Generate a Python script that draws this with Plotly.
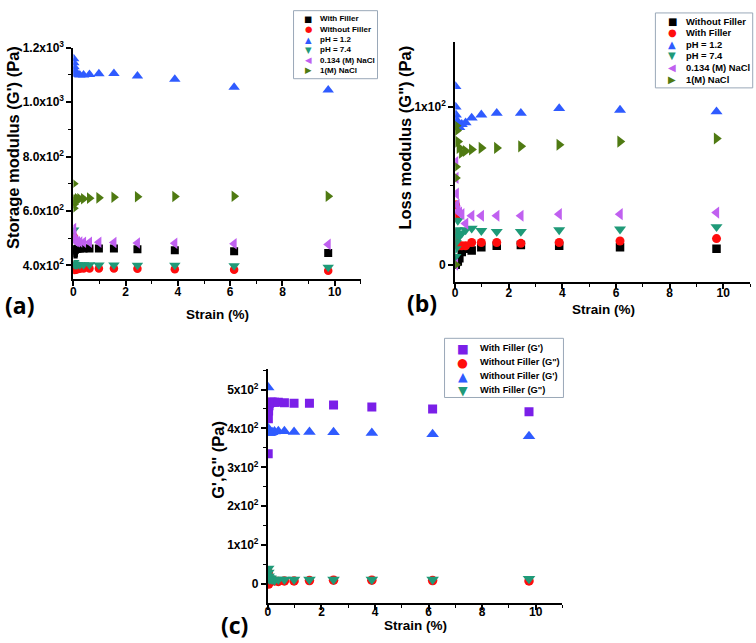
import plotly.graph_objects as go

W, H = 756, 643

# ---------------- data ----------------
strain = [0.0098, 0.0155, 0.0245, 0.0388, 0.0615, 0.0975, 0.155, 0.245,
          0.388, 0.615, 0.975, 1.55, 2.45, 3.88, 6.15, 9.75]

# (a) storage modulus G' (Pa)
a_names = ["With Filler", "Without Filler", "pH = 1.2", "pH = 7.4", "0.134 (M) NaCl", "1(M) NaCl"]
a_with_filler = [440, 445, 452, 456, 458, 460, 461, 462, 462, 462, 462, 462, 459, 455, 452, 445]
a_without_filler = [505, 400, 385, 383, 384, 385, 386, 387, 388, 388, 388, 388, 387, 386, 384, 380]
a_ph12 = [1160, 1145, 1130, 1118, 1110, 1105, 1102, 1100, 1100, 1102, 1104, 1105, 1096, 1084, 1055, 1045]
a_ph74 = [530, 410, 405, 403, 402, 402, 402, 402, 402, 402, 401, 401, 400, 400, 398, 393]
a_nacl0134 = [535, 515, 500, 492, 490, 488, 487, 486, 485, 485, 485, 484, 482, 481, 479, 477]
a_nacl1 = [700, 610, 625, 635, 640, 642, 645, 645, 645, 647, 648, 650, 652, 653, 654, 654]

# (b) loss modulus G'' (Pa)
b_names = ["Without Filler", "With Filler", "pH = 1.2", "pH = 7.4", "0.134 (M) NaCl", "1(M) NaCl"]
b_without_filler = [0, 0, 1, 2, 3, 2, 4, 8, 10, 9, 11, 12, 12.5, 12, 11, 10]
b_with_filler = [38, 30, 20, 15, 13, 12, 12, 12, 12, 14, 14, 14, 13.5, 14, 15, 16.5]
b_ph12 = [113, 100, 95, 92, 90, 88, 87, 89, 90, 93, 95, 96, 96, 99, 98, 97]
b_ph74 = [5, 10, 14, 18, 22, 28, 18, 20, 22, 23, 21.5, 21, 21, 22, 22.5, 24]
b_nacl0134 = [0, 65, 55, 45, 38, 34, 33, 32, 26, 31, 31, 31, 31, 32, 32, 33]
b_nacl1 = [0, 55, 62, 88, 85, 78, 74, 71, 72, 73, 74, 74, 75, 76, 78, 80]

# (c) G', G'' (Pa)
c_names = ["With Filler (G')", "Without Filler (G\")", "Without Filler (G')", "With Filler (G\")"]
c_with_g1 = [335, 425, 445, 458, 465, 467, 468, 467, 467, 466, 465, 465, 460, 455, 450, 443]
c_without_g2 = [30, 20, 0, 5, 10, 12, 10, 8, 7, 8, 8, 9, 10, 10, 9, 8]
c_without_g1 = [505, 400, 390, 388, 388, 389, 390, 392, 393, 393, 391, 391, 390, 388, 385, 380]
c_with_g2 = [40, 30, 20, 15, 12, 15, 12, 10, 12, 12, 12, 12, 12, 12, 12, 14]

x_ticks = [0, 2, 4, 6, 8, 10]
a_yticks = [400, 600, 800, 1000, 1200]
a_yticktext = ["4.0x10<sup>2</sup>", "6.0x10<sup>2</sup>", "8.0x10<sup>2</sup>",
               "1.0x10<sup>3</sup>", "1.2x10<sup>3</sup>"]
b_yticks = [0, 100]
b_yticktext = ["0", "1x10<sup>2</sup>"]
c_yticks = [0, 100, 200, 300, 400, 500]
c_yticktext = ["0", "1x10<sup>2</sup>", "2x10<sup>2</sup>", "3x10<sup>2</sup>",
               "4x10<sup>2</sup>", "5x10<sup>2</sup>"]

# ---------------- styles ----------------
BLACK = "#000000"
RED = "#ff0d0d"
BLUE = "#2f5bff"
TEAL = "#1f9a78"
VIOLET = "#c060f0"
OLIVE = "#4f7a12"
PURPLE = "#7a1fe8"

FONT = "Liberation Sans"


def px(x):
    return x / W


def py(y):
    return 1 - y / H


fig = go.Figure()


def add_series(xa, ya, y, symbol, color, size):
    fig.add_trace(go.Scatter(x=strain, y=y, mode="markers", xaxis=xa, yaxis=ya,
                             showlegend=False,
                             marker=dict(symbol=symbol, color=color, size=size,
                                         line=dict(width=0))))


a_series = [a_with_filler, a_without_filler, a_ph12, a_ph74, a_nacl0134, a_nacl1]
b_series = [b_without_filler, b_with_filler, b_ph12, b_ph74, b_nacl0134, b_nacl1]
c_series = [c_with_g1, c_without_g2, c_without_g1, c_with_g2]
six_sym = ["square", "circle", "triangle-up", "triangle-down", "triangle-left", "triangle-right"]
six_col = [BLACK, RED, BLUE, TEAL, VIOLET, OLIVE]
six_size = [8, 8.5, 10, 10, 10, 10]
for s, sym, col, sz in zip(a_series, six_sym, six_col, six_size):
    add_series("x", "y", s, sym, col, sz)
for s, sym, col, sz in zip(b_series, six_sym, six_col, six_size):
    add_series("x2", "y2", s, sym, col, sz + 0.5)
c_sym = ["square", "circle", "triangle-up", "triangle-down"]
c_col = [PURPLE, RED, BLUE, TEAL]
c_size = [9, 9.5, 11, 11]
for s, sym, col, sz in zip(c_series, c_sym, c_col, c_size):
    add_series("x3", "y3", s, sym, col, sz)

tickfont = dict(family=FONT, size=12, color="black", weight="bold")


def xaxis(dom, anchor, standoff):
    return dict(domain=dom, anchor=anchor, range=[0, 11], tickmode="array",
                tickvals=x_ticks, ticktext=[str(v) for v in x_ticks],
                showline=True, linecolor="black", linewidth=2,
                ticks="outside", ticklen=5, tickwidth=1.5, tickcolor="black",
                ticklabelstandoff=standoff,
                minor=dict(tickmode="linear", tick0=1, dtick=2, ticks="outside",
                           ticklen=3, tickwidth=1.2, tickcolor="black"),
                showgrid=False, zeroline=False, tickfont=tickfont, fixedrange=True)


def yaxis(dom, anchor, rng, tv, tt, mdt):
    return dict(domain=dom, anchor=anchor, range=rng, tickmode="array",
                tickvals=tv, ticktext=tt,
                showline=True, linecolor="black", linewidth=2,
                ticks="outside", ticklen=5, tickwidth=1.5, tickcolor="black",
                minor=dict(tickmode="linear", tick0=0, dtick=mdt, ticks="outside",
                           ticklen=3, tickwidth=1.2, tickcolor="black"),
                showgrid=False, zeroline=False, tickfont=tickfont, fixedrange=True)


fig.update_layout(
    width=W, height=H,
    margin=dict(l=0, r=0, t=0, b=0),
    paper_bgcolor="white", plot_bgcolor="white",
    showlegend=False,
    xaxis=xaxis([px(70.7), px(359.3)], "y", -5),
    yaxis=yaxis([py(274.3), py(39.3)], "x", [348, 1200], a_yticks, a_yticktext, 100),
    xaxis2=xaxis([px(454), px(750)], "y2", -6),
    yaxis2=yaxis([py(276.7), py(33.3)], "x2", [-10.9, 141.25], b_yticks, b_yticktext, 50),
    xaxis3=xaxis([px(266), px(561.7)], "y3", -9),
    yaxis3=yaxis([py(602.7), py(365)], "x3", [-49.2, 553], c_yticks, c_yticktext, 50),
)

ann = []
shapes = []


def text(x, y, s, size, xanchor="center", angle=0, family=FONT, color="black"):
    ann.append(dict(x=px(x), y=py(y), xref="paper", yref="paper", text=s,
                    showarrow=False, xanchor=xanchor, yanchor="middle", textangle=angle,
                    font=dict(family=family, size=size, color=color, weight="bold")))


# axis titles
text(215, 310, "Strain (%)", 13.5)
text(603, 305, "Strain (%)", 13.5)
text(414, 625, "Strain (%)", 13.5)
text(10, 140, "Storage modulus (G') (Pa)", 16.5, angle=-90)
text(404, 130, "Loss modulus (G\") (Pa)", 16.5, angle=-90)
text(215, 457, "G',G\" (Pa)", 16.5, angle=-90)

# panel letters
text(17, 300, "(a)", 23, family="Open Sans")
text(421, 298, "(b)", 23, family="Open Sans")
text(232, 625, "(c)", 23, family="Open Sans")

# legends
glyph = {"square": "\u25A0", "circle": "\u25CF", "triangle-up": "\u25B2",
         "triangle-down": "\u25BC", "triangle-left": "\u25C0", "triangle-right": "\u25B6"}


def legend(box, rows, symx, textx, names, syms, cols, fsize, gsize):
    shapes.append(dict(type="rect", xref="paper", yref="paper",
                       x0=px(box[0]), x1=px(box[2]), y0=py(box[3]), y1=py(box[1]),
                       line=dict(color="#9aa8b8", width=1), fillcolor="white"))
    for r, n, s, c in zip(rows, names, syms, cols):
        ann.append(dict(x=px(symx), y=py(r), xref="paper", yref="paper", text=glyph[s],
                        showarrow=False, xanchor="center", yanchor="middle",
                        font=dict(family="DejaVu Sans", size=gsize, color=c)))
        text(textx, r, n, fsize, xanchor="left")


legend([291.7, 1.7, 376, 70.7], [10, 20.5, 31, 41.5, 52, 62], 306.7, 316.5,
       a_names, six_sym, six_col, 8, 8.5)
legend([655, 4, 752.7, 80], [12.5, 24.3, 35.8, 47.5, 59.5, 71.3], 671.7, 683.5,
       b_names, six_sym, six_col, 9.4, 10)
legend([443.3, 334, 562.7, 394], [344, 358.3, 372.7, 386.7], 461.7, 476.5,
       c_names, c_sym, c_col, 9.3, 12.5)

fig.update_layout(annotations=ann, shapes=shapes)
fig.write_html("out.html")
